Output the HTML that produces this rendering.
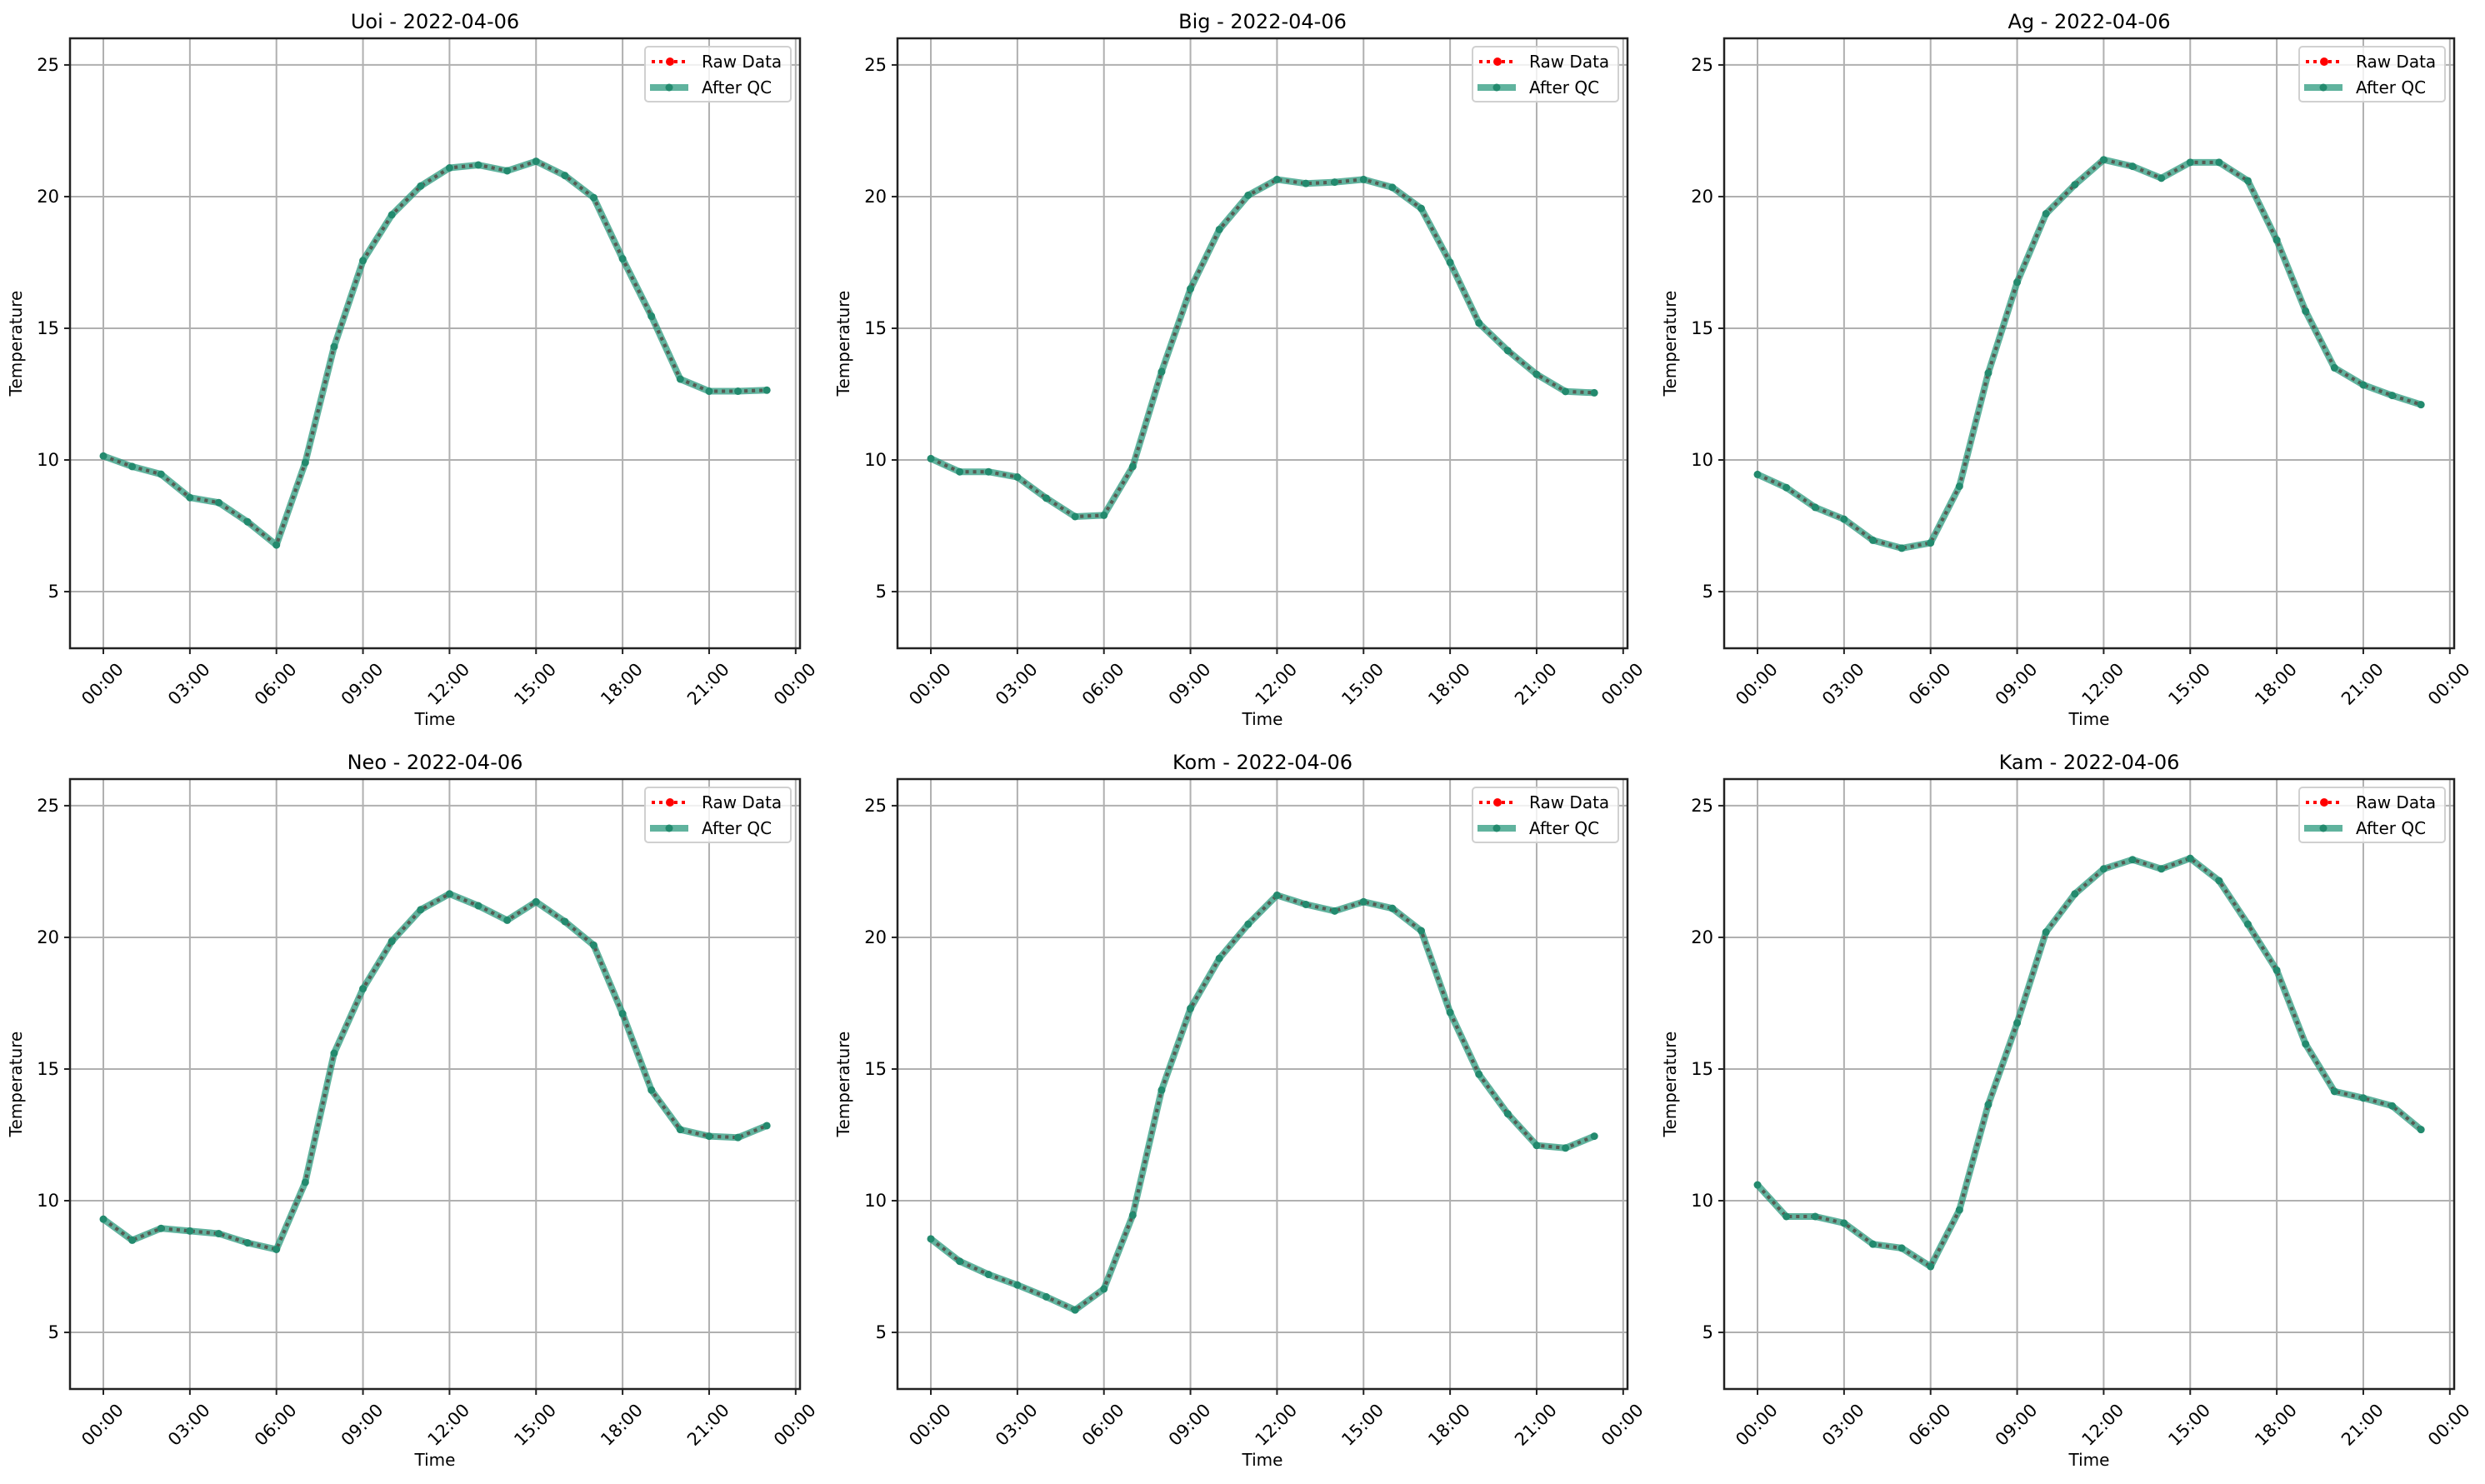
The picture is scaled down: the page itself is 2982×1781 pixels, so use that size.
<!DOCTYPE html>
<html><head><meta charset="utf-8"><style>
html,body{margin:0;padding:0;background:#fff;}
svg{display:block;font-family:"DejaVu Sans","Liberation Sans",sans-serif;}
</style></head><body>
<svg id="fig" width="2982" height="1781" viewBox="0 0 2982 1781" xmlns="http://www.w3.org/2000/svg"></svg>
<script>
const stations = ["Uoi","Big","Ag","Neo","Kom","Kam"];
const dateLabel = "2022-04-06";
const hours = [0,1,2,3,4,5,6,7,8,9,10,11,12,13,14,15,16,17,18,19,20,21,22,23];
const tUoi = [10.15,9.75,9.46,8.57,8.38,7.65,6.77,9.9,14.3,17.57,19.31,20.4,21.09,21.2,20.98,21.34,20.8,19.96,17.64,15.46,13.07,12.61,12.61,12.65];
const tBig = [10.05,9.55,9.55,9.35,8.55,7.85,7.9,9.75,13.35,16.5,18.75,20.05,20.65,20.5,20.55,20.65,20.35,19.55,17.5,15.2,14.15,13.25,12.6,12.55];
const tAg = [9.45,8.95,8.2,7.75,6.95,6.65,6.85,9.0,13.3,16.75,19.35,20.45,21.4,21.15,20.7,21.3,21.3,20.6,18.35,15.65,13.5,12.85,12.45,12.1];
const tNeo = [9.3,8.5,8.95,8.85,8.75,8.4,8.15,10.7,15.6,18.05,19.85,21.05,21.65,21.2,20.65,21.35,20.6,19.7,17.1,14.2,12.7,12.45,12.4,12.85];
const tKom = [8.55,7.7,7.2,6.8,6.35,5.85,6.65,9.45,14.2,17.3,19.2,20.5,21.6,21.25,21.0,21.35,21.1,20.25,17.15,14.8,13.3,12.1,12.0,12.45];
const tKam = [10.6,9.4,9.4,9.15,8.35,8.2,7.5,9.65,13.65,16.75,20.2,21.65,22.6,22.95,22.6,23.0,22.15,20.5,18.75,15.95,14.15,13.9,13.6,12.7];
const series = [tUoi,tBig,tAg,tNeo,tKom,tKam];
const yTicks = [5,10,15,20,25];
const xTickHours = [0,3,6,9,12,15,18,21,24];
const xTickLabels = ["00:00","03:00","06:00","09:00","12:00","15:00","18:00","21:00","00:00"];

const NS="http://www.w3.org/2000/svg";
const svg=document.getElementById('fig');
function mk(tag,attrs,parent){const e=document.createElementNS(NS,tag);for(const k in attrs)e.setAttribute(k,attrs[k]);(parent||svg).appendChild(e);return e;}

const W=876,H=732,lefts=[84,1077,2069],tops=[46,935];
const yMin=2.85,yMax=26.01;
const xMinH=-1.156,xMaxH=24.15;
const QC='rgba(34,150,120,0.72)';

series.forEach((vals,i)=>{
  const L=lefts[i%3],T=tops[Math.floor(i/3)];
  const g=mk('g',{});
  
  
  const sx=h=>L+(h-xMinH)/(xMaxH-xMinH)*W;
  const sy=v=>T+(yMax-v)/(yMax-yMin)*H;
  yTicks.forEach(v=>{
    const l=mk('line',{x1:L,x2:L+W,y1:sy(v),y2:sy(v),stroke:'#b0b0b0','stroke-width':2},g);
    
    
    const tk=mk('line',{x1:L-7,x2:L,y1:sy(v),y2:sy(v),stroke:'#222','stroke-width':2},g);
    
    
    const t=mk('text',{x:L-13,y:sy(v)+7,'text-anchor':'end','font-size':21,fill:'#000'},g);
    t.textContent=v;
    
    
  });
  xTickHours.forEach((h,j)=>{
    const x=sx(h);
    const l=mk('line',{x1:x,x2:x,y1:T,y2:T+H,stroke:'#b0b0b0','stroke-width':2},g);
    
    
    const tk=mk('line',{x1:x,x2:x,y1:T+H,y2:T+H+7,stroke:'#222','stroke-width':2},g);
    
    
    const cx=x-1,cy=T+H+43;
    const t=mk('text',{x:cx,y:cy,'text-anchor':'middle','dominant-baseline':'central','font-size':21,fill:'#000',transform:`rotate(-45 ${cx} ${cy})`},g);
    t.textContent=xTickLabels[j];
    
    
  });
  const pts=hours.map((h,k)=>sx(h).toFixed(1)+','+sy(vals[k]).toFixed(1)).join(' ');
  const raw=mk('polyline',{points:pts,fill:'none',stroke:'#ff0000','stroke-width':4,'stroke-dasharray':'4 5'},g);
  
  
  const qc=mk('polyline',{points:pts,fill:'none',stroke:QC,'stroke-width':8,'stroke-linejoin':'round'},g);
  
  
  const dots=mk('polyline',{points:pts,fill:'none',stroke:'rgba(80,80,80,0.6)','stroke-width':4,'stroke-dasharray':'4 5'},g);
  
  
  hours.forEach((h,k)=>{
    const c=mk('circle',{cx:sx(h),cy:sy(vals[k]),r:4.5,fill:'#238a6e'},g);
    
    
  });
  const fr=mk('rect',{x:L,y:T,width:W,height:H,fill:'none',stroke:'#222','stroke-width':2.5},g);
  
  
  const ti=mk('text',{x:L+W/2,y:T-12,'text-anchor':'middle','font-size':24,fill:'#000'},g);
  ti.textContent=stations[i]+' - '+dateLabel;
  
  
  const xl=mk('text',{x:L+W/2,y:T+H+92,'text-anchor':'middle','font-size':20,fill:'#000'},g);
  xl.textContent='Time';
  
  
  const yx=L-58,yy=T+H/2;
  const yl=mk('text',{x:yx,y:yy,'text-anchor':'middle','font-size':20,fill:'#000',transform:`rotate(-90 ${yx} ${yy})`},g);
  yl.textContent='Temperature';
  
  
  const lg=mk('g',{},g);
  
  
  const bx=L+W-186,by=T+10;
  mk('rect',{x:bx,y:by,width:175,height:66,rx:4,fill:'rgba(255,255,255,0.8)',stroke:'#d0d0d0','stroke-width':2},lg);
  const r1=mk('line',{x1:bx+8,x2:bx+48,y1:by+18,y2:by+18,stroke:'#ff0000','stroke-width':4,'stroke-dasharray':'4 5'},lg);
  
  
  mk('circle',{cx:bx+30,cy:by+18,r:5,fill:'#ff0000'},lg);
  const t1=mk('text',{x:bx+68,y:by+25,'font-size':20,fill:'#000'},lg);
  t1.textContent='Raw Data';
  
  
  const q1=mk('line',{x1:bx+6,x2:bx+52,y1:by+49,y2:by+49,stroke:QC,'stroke-width':8},lg);
  
  
  mk('circle',{cx:bx+29,cy:by+49,r:4.5,fill:'#238a6e'},lg);
  const t2=mk('text',{x:bx+68,y:by+56,'font-size':20,fill:'#000'},lg);
  t2.textContent='After QC';
  
  
});
</script>
</body></html>
